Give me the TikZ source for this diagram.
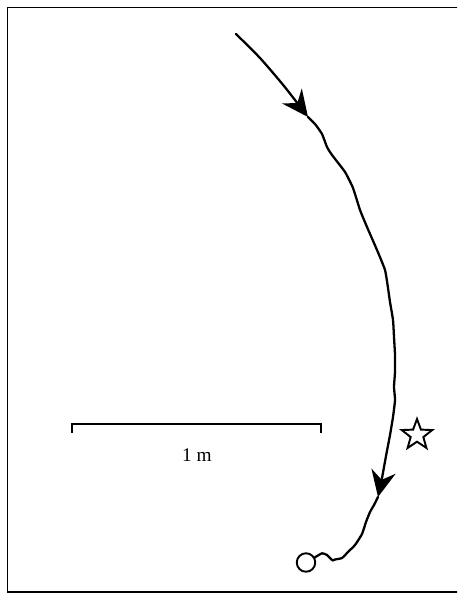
\documentclass[tikz,border=0pt]{standalone}
\usepackage{fontspec}
\setmainfont{Liberation Serif}
\usetikzlibrary{arrows.meta,shapes.geometric}

\begin{document}
\begin{tikzpicture}[x=0.02cm, y=-0.02cm,
        track/.style={line width=1.3pt, line join=round, line cap=round},
        head/.style={-{Stealth[length=15pt, width=14pt, inset=5pt]}}]
        \useasboundingbox (0,0) rectangle (457,594);
        \clip (0,0) rectangle (457,594);

        % ===== frame =====
        \draw[line width=0.8pt] (7.5,7.5) rectangle (470,592);

        % ===== scale bar =====
        \coordinate (barL) at (72,424);
        \coordinate (barR) at (321,424);
        \draw[line width=0.9pt] ([yshift=-5pt]barL) -- (barL) -- (barR) -- ([yshift=-5pt]barR);
        \node[anchor=base, font=\fontsize{11}{13}\selectfont] (barlabel) at (197,461.5) {1 m};

        % ===== markers =====
        \node[circle, draw, line width=1.1pt, minimum size=0.37cm, inner sep=0pt] (home) at (306,562.5) {};
        \node[star, star points=5, star point ratio=2.4, draw, line width=1.1pt,
              minimum size=0.64cm, inner sep=0pt] (goal) at (417,435) {};

        % ===== trajectory =====
        \coordinate (start) at (236,34);
        \coordinate (tipA) at (308,117);
        \coordinate (tipB) at (378,497);

        \draw[track, head] plot[smooth, tension=0.4] coordinates {(start) (260,58) (284,86) (tipA)};
        \draw[track, head] plot[smooth, tension=0.3] coordinates {(tipA) (315,124) (322,134)
            (327,147) (332,155) (345,172) (353,188) (360,210) (367,227) (377,250) (385,270)
            (388,288) (390,302) (393,320) (394,337) (395,355) (395,372) (394,387) (395,400)
            (393,417) (390,435) (386,456) (382,478) (tipB)};
        \draw[track] plot[smooth, tension=0.3] coordinates {(tipB) (374,505) (370,512) (366,522)
            (362,534) (355,545) (348,552) (342,558) (335,559.5) (332.7,560.5) (327,555)
            (322,553.3) (home.30)};
\end{tikzpicture}
\end{document}
